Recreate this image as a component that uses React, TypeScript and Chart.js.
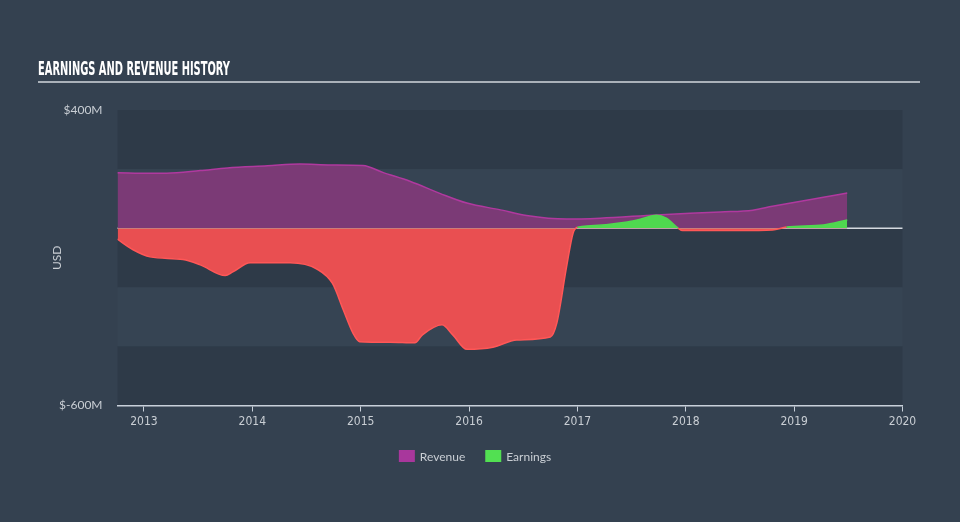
import React, { useEffect, useRef } from "react";
import { Chart, registerables } from "chart.js";

Chart.register(...registerables);

const TITLE = "EARNINGS AND REVENUE HISTORY";
const Y_TICKS = [-600, 400];
const X_TICKS = [2013, 2014, 2015, 2016, 2017, 2018, 2019, 2020];
const LEGEND_LABELS = ["Revenue", "Earnings"];

const revenueDates = [2012.754, 2013.056, 2013.21, 2013.52, 2013.77, 2014.14, 2014.44, 2014.72, 2015.02, 2015.21, 2015.46, 2015.73, 2015.98, 2016.29, 2016.53, 2016.9, 2017.21, 2017.73, 2018.32, 2018.62, 2018.8, 2019.27, 2019.49];
const revenueValues = [188, 186, 186, 195, 204, 211, 217, 214, 212, 188, 158, 118, 85, 62, 43, 31, 34, 45, 55, 61, 74, 105, 119];

const earningsDates = [2012.754, 2012.9, 2013.056, 2013.36, 2013.52, 2013.75, 2013.82, 2013.98, 2014.35, 2014.6, 2014.74, 2014.84, 2014.93, 2014.99, 2015.27, 2015.5, 2015.57, 2015.75, 2015.85, 2015.98, 2016.22, 2016.44, 2016.75, 2016.81, 2016.9, 2016.96, 2017.0, 2017.12, 2017.46, 2017.58, 2017.73, 2017.82, 2017.93, 2017.97, 2018.5, 2018.8, 2018.93, 2019.27, 2019.49];
const earningsValues = [-37, -73, -97, -106, -124, -160, -148, -117, -117, -139, -187, -277, -356, -384, -386, -388, -361, -327, -361, -410, -403, -378, -368, -321, -131, -17, 3, 8, 21, 30, 44, 34, 0, -8, -8, -6, 4, 11, 28];

const BG = "#344150";
const BAND_DARK = "#2e3a48";
const BAND_LIGHT = "#364453";
const REV_FILL = "#7b3a76";
const REV_LINE = "#b0399f";
const EARN_RED = "#e94f51";
const EARN_RED_LINE = "#ff5757";
const EARN_GREEN = "#4fd84f";
const TEXT = "#c9ced4";
const LEGEND_COLORS = ["#a8379c", "#52e052"];
const SANS = "Lato, 'Noto Sans', sans-serif";

const decor = {
  id: "decor",
  beforeDraw(chart: any) {
    const { ctx, chartArea, scales } = chart;
    ctx.save();
    ctx.fillStyle = BG;
    ctx.fillRect(0, 0, chart.width, chart.height);
    const y = scales.y;
    const bounds = [400, 200, 0, -200, -400, -600];
    for (let i = 0; i < bounds.length - 1; i++) {
      const top = y.getPixelForValue(bounds[i]);
      const bot = y.getPixelForValue(bounds[i + 1]);
      ctx.fillStyle = i % 2 === 0 ? BAND_DARK : BAND_LIGHT;
      ctx.fillRect(chartArea.left, top, chartArea.right - chartArea.left, bot - top);
    }
    const z = y.getPixelForValue(0);
    ctx.strokeStyle = "#d5dae0";
    ctx.lineWidth = 1.5;
    ctx.beginPath();
    ctx.moveTo(chartArea.left, z);
    ctx.lineTo(chartArea.right, z);
    ctx.stroke();
    ctx.restore();
  },
  afterDraw(chart: any) {
    const { ctx } = chart;
    ctx.save();
    ctx.fillStyle = "#ffffff";
    ctx.font = 'bold 19px "Liberation Sans Narrow", "DejaVu Sans Condensed", sans-serif';
    ctx.textBaseline = "alphabetic";
    ctx.textAlign = "left";
    ctx.fillText(TITLE, 38, 75, 192);
    ctx.strokeStyle = "#aab1b9";
    ctx.lineWidth = 2;
    ctx.beginPath();
    ctx.moveTo(38, 82);
    ctx.lineTo(920, 82);
    ctx.stroke();

    // legend
    ctx.font = "12px " + SANS;
    ctx.textBaseline = "middle";
    const gap = 20;
    const boxW = 16;
    const boxH = 12;
    const widths = LEGEND_LABELS.map((t) => boxW + 5 + ctx.measureText(t).width);
    const total = widths.reduce((a, b) => a + b, 0) + gap * (widths.length - 1);
    let x = (chartAreaMid(chart)) - total / 2;
    const cy = 456;
    LEGEND_LABELS.forEach((t, i) => {
      ctx.fillStyle = LEGEND_COLORS[i];
      ctx.fillRect(x, cy - boxH / 2, boxW, boxH);
      ctx.fillStyle = TEXT;
      ctx.fillText(t, x + boxW + 5, cy + 1);
      x += widths[i] + gap;
    });
    ctx.restore();
  },
};

function chartAreaMid(chart: any) {
  return 475;
}

export default function App() {
  const ref = useRef<HTMLCanvasElement | null>(null);
  useEffect(() => {
    if (!ref.current) return;
    const chart = new Chart(ref.current, {
      type: "line",
      data: {
        datasets: [
          {
            label: "Revenue",
            data: revenueDates.map((d, i) => ({ x: d, y: revenueValues[i] })),
            borderColor: REV_LINE,
            backgroundColor: REV_FILL,
            borderWidth: 1.5,
            fill: "origin",
            pointRadius: 0,
            cubicInterpolationMode: "monotone",
            order: 2,
          },
          {
            label: "Earnings",
            data: earningsDates.map((d, i) => ({ x: d, y: earningsValues[i] })),
            borderColor: EARN_RED_LINE,
            backgroundColor: EARN_RED,
            segment: {
              borderColor: (c: any) => ((c.p0.parsed.y + c.p1.parsed.y) / 2 >= 0 ? EARN_GREEN : EARN_RED_LINE),
            },
            borderWidth: 1.5,
            fill: { target: "origin", above: EARN_GREEN, below: EARN_RED },
            pointRadius: 0,
            cubicInterpolationMode: "monotone",
            order: 1,
          },
        ],
      } as any,
      options: {
        animation: false,
        responsive: false,
        maintainAspectRatio: false,
        layout: { padding: { top: 110, left: 38, right: 57.5, bottom: 86.5 } },
        plugins: {
          tooltip: { enabled: false },
          title: { display: false },
          legend: { display: false },
        },
        scales: {
          x: {
            type: "linear",
            min: 2012.756,
            max: 2020,
            afterBuildTicks: (s: any) => {
              s.ticks = X_TICKS.map((v) => ({ value: v }));
            },
            afterFit: (s: any) => {
              s.height = 30;
            },
            ticks: {
              color: TEXT,
              font: { size: 12, family: "'DejaVu Sans Condensed', 'Liberation Sans Narrow', sans-serif" },
              padding: 3,
              maxRotation: 0,
              autoSkip: false,
              callback: (v: any) => String(v),
            },
            grid: { drawOnChartArea: false, drawTicks: true, tickLength: 6, color: "#c8d0da", lineWidth: 1 },
            border: { display: true, color: "#c8d0da", width: 1.5 },
          },
          y: {
            type: "linear",
            min: -600,
            max: 400,
            afterBuildTicks: (s: any) => {
              s.ticks = Y_TICKS.map((v) => ({ value: v }));
            },
            afterFit: (s: any) => {
              s.width = 79.5;
            },
            ticks: {
              color: TEXT,
              padding: 15,
              font: { size: 12, family: SANS },
              callback: (v: any) => "$" + v + "M",
            },
            grid: { display: false, drawTicks: false },
            border: { display: false },
            title: {
              display: true,
              text: "USD",
              color: TEXT,
              font: { size: 12, family: SANS },
              padding: { top: 12, bottom: 0 },
            },
          },
        },
      } as any,
      plugins: [decor],
    });
    return () => chart.destroy();
  }, []);
  return (
    <div style={{ position: "absolute", left: 0, top: 0, width: 960, height: 522, background: BG }}>
      <canvas ref={ref} width={960} height={522} style={{ display: "block", width: 960, height: 522 }} />
    </div>
  );
}
